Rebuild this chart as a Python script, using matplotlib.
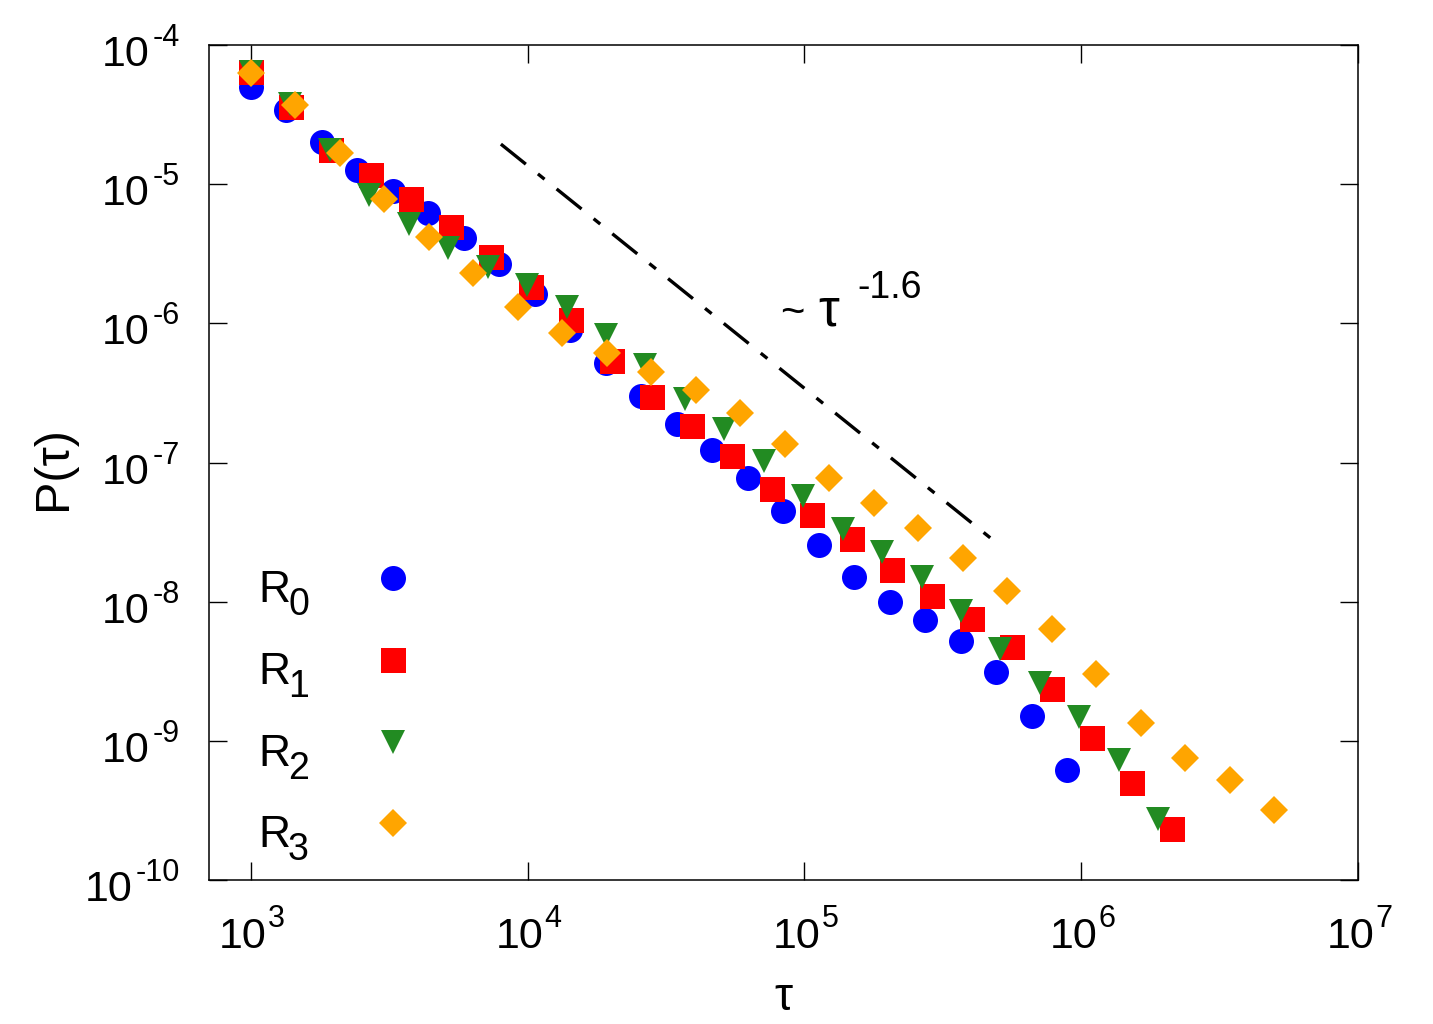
import matplotlib
matplotlib.use('Agg')
import matplotlib.pyplot as plt
from matplotlib.ticker import FixedLocator, NullFormatter, NullLocator
from matplotlib.font_manager import FontProperties
import numpy as np

plt.rcParams['font.family'] = ['Liberation Sans', 'DejaVu Sans']

# data
tau_r0 = [1000, 1343, 1805, 2424, 3257, 4375, 5878, 7896, 10610, 14250, 19140, 25720,
          34540, 46410, 62340, 83750, 112500, 151100, 203000, 272800, 366400, 492300,
          661300, 888400]
p_r0 = [4.99e-5, 3.40e-5, 2.00e-5, 1.26e-5, 8.9e-6, 6.2e-6, 4.1e-6, 2.65e-6, 1.62e-6,
        8.9e-7, 5.2e-7, 3.0e-7, 1.9e-7, 1.22e-7, 7.7e-8, 4.5e-8, 2.57e-8, 1.5e-8,
        1.0e-8, 7.4e-9, 5.2e-9, 3.1e-9, 1.5e-9, 6.2e-10]

tau_r1 = [1000, 1396, 1948, 2718, 3794, 5294, 7389, 10310, 14390, 20090, 28030, 39120,
          54600, 76200, 106300, 148400, 207100, 289100, 403400, 563000, 785800, 1096600,
          1530500, 2135900]
p_r1 = [6.4e-5, 3.58e-5, 1.76e-5, 1.16e-5, 7.8e-6, 4.9e-6, 3.0e-6, 1.82e-6, 1.05e-6,
        5.4e-7, 2.94e-7, 1.82e-7, 1.12e-7, 6.4e-8, 4.2e-8, 2.8e-8, 1.7e-8, 1.1e-8,
        7.5e-9, 4.7e-9, 2.37e-9, 1.05e-9, 5.0e-10, 2.33e-10]

tau_r2 = [1000, 1388, 1928, 2677, 3717, 5160, 7165, 9948, 13810, 19180, 26630, 36970,
          51330, 71270, 98950, 137400, 190800, 264900, 367700, 510600, 708900, 984200,
          1366700, 1897500]
p_r2 = [6.4e-5, 3.77e-5, 1.76e-5, 8.3e-6, 5.2e-6, 3.5e-6, 2.53e-6, 1.88e-6, 1.30e-6,
        8.3e-7, 5.0e-7, 2.84e-7, 1.73e-7, 1.02e-7, 5.7e-8, 3.35e-8, 2.29e-8, 1.51e-8,
        8.5e-9, 4.6e-9, 2.6e-9, 1.49e-9, 7.3e-10, 2.75e-10]

tau_r3 = [1000, 1448, 2097, 3036, 4395, 6364, 9213, 13340, 19310, 27960, 40480, 58610,
          84870, 122900, 177900, 257600, 372900, 539900, 781700, 1131900, 1638600,
          2372400, 3435400, 4974000]
p_r3 = [6.3e-5, 3.7e-5, 1.67e-5, 7.8e-6, 4.16e-6, 2.29e-6, 1.30e-6, 8.5e-7, 6.1e-7,
        4.44e-7, 3.3e-7, 2.25e-7, 1.35e-7, 7.8e-8, 5.15e-8, 3.4e-8, 2.07e-8, 1.2e-8,
        6.4e-9, 3.03e-9, 1.35e-9, 7.55e-10, 5.24e-10, 3.19e-10]

series_names = ['0', '1', '2', '3']

# guide line ~ tau^-1.6
guide_tau = [8.0e3, 4.8e5]
guide_anchor = 1.94e-5
guide_slope = -1.6

x_ticks = [1e3, 1e4, 1e5, 1e6, 1e7]
y_ticks = [1e-10, 1e-9, 1e-8, 1e-7, 1e-6, 1e-5, 1e-4]

F_TICK = 31
F_SUP = 22
F_LAB = 33

W, H = 1433, 1024
fig = plt.figure(figsize=(W / 100, H / 100), dpi=100)
ax = fig.add_axes([209 / W, 1 - 880 / H, (1358 - 209) / W, (880 - 45) / H])

styles = [('o', '#0000ff', 18), ('s', '#ff0000', 18), ('v', '#228b22', 17.5),
          ('D', '#ffa500', 14.2)]
data = [(tau_r0, p_r0), (tau_r1, p_r1), (tau_r2, p_r2), (tau_r3, p_r3)]
for (tau, p), (mk, col, ms) in zip(data, styles):
    ax.plot(tau, p, linestyle='none', marker=mk, color=col, markersize=ms,
            markeredgewidth=0)

g_tau = np.array(guide_tau)
g_p = guide_anchor * (g_tau / g_tau[0]) ** guide_slope
ax.plot(g_tau, g_p, color='black', lw=2.4, linestyle=(0, (9.6, 4.65, 2.55, 4.65)),
        dash_capstyle='butt')

ax.set_xscale('log')
ax.set_yscale('log')
ax.set_xlim(10 ** (3 - 42 / 277), 1e7)
ax.set_ylim(1e-10, 1e-4)

ax.xaxis.set_major_locator(FixedLocator(x_ticks))
ax.yaxis.set_major_locator(FixedLocator(y_ticks))
ax.xaxis.set_minor_locator(NullLocator())
ax.yaxis.set_minor_locator(NullLocator())
ax.xaxis.set_major_formatter(NullFormatter())
ax.yaxis.set_major_formatter(NullFormatter())
ax.tick_params(which='major', direction='in', length=13, width=1.0,
               top=True, right=True)
for s in ax.spines.values():
    s.set_linewidth(1.1)

# gnuplot style tick labels: "10" plus a raised exponent
renderer = fig.canvas.get_renderer()
sup_prop = FontProperties(family='Liberation Sans', size=F_SUP)
for v in x_ticks:
    e = int(round(np.log10(v)))
    ax.annotate('10', xy=(v, 0), xycoords=('data', 'axes fraction'), xytext=(16, -68),
                textcoords='offset pixels', ha='right', va='baseline',
                fontsize=F_TICK, annotation_clip=False)
    ax.annotate(str(e), xy=(v, 0), xycoords=('data', 'axes fraction'), xytext=(17, -47),
                textcoords='offset pixels', ha='left', va='baseline',
                fontsize=F_SUP, annotation_clip=False)
for v in y_ticks:
    e = str(int(round(np.log10(v))))
    w_sup = renderer.get_text_width_height_descent(e, sup_prop, ismath=False)[0]
    ax.annotate(e, xy=(0, v), xycoords=('axes fraction', 'data'), xytext=(-29, -1),
                textcoords='offset pixels', ha='right', va='baseline',
                fontsize=F_SUP, annotation_clip=False)
    ax.annotate('10', xy=(0, v), xycoords=('axes fraction', 'data'),
                xytext=(-29 - w_sup - 3, -21), textcoords='offset pixels',
                ha='right', va='baseline', fontsize=F_TICK, annotation_clip=False)

ax.set_xlabel('τ', fontsize=F_LAB, va='baseline')
ax.xaxis.set_label_coords(0.5, -(1010 - 880) / 835)
ax.set_ylabel('P(τ)', fontsize=F_LAB + 2)
ax.yaxis.set_label_coords(-(209 - 76) / 1149, 1 - (468 - 45) / 835)

# annotation of the guide line
fig.text(780 / W, 1 - 325 / H, '~', fontsize=30, va='baseline', ha='left')
fig.text(818 / W, 1 - 325 / H, 'τ', fontsize=38, va='baseline', ha='left')
fig.text(857 / W, 1 - 298 / H, '-1.6', fontsize=27, va='baseline', ha='left')

# key, text left of the symbol
rows_y = [578, 660, 742, 823]
for (mk, col, ms), sub, yy in zip(styles, series_names, rows_y):
    fig.text(258 / W, 1 - (yy + 24) / H, 'R', fontsize=32, va='baseline', ha='left')
    fig.text(288 / W, 1 - (yy + 37) / H, sub, fontsize=27, va='baseline', ha='left')
    ax.plot([393 / W], [1 - yy / H], transform=fig.transFigure, linestyle='none',
            marker=mk, color=col, markersize=ms, markeredgewidth=0, clip_on=False)

fig.savefig('out.png', dpi=100)
